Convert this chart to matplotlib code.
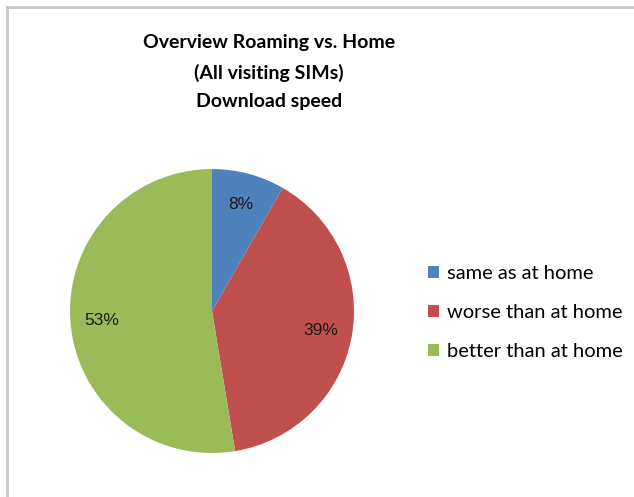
import matplotlib
matplotlib.use("Agg")
import matplotlib.pyplot as plt
from matplotlib.lines import Line2D
from matplotlib.patches import Patch

# data
labels = ["same as at home", "worse than at home", "better than at home"]
shares = [8.3, 39.1, 52.6]
colors = ["#4F81BD", "#C0504D", "#9BBB59"]

fig = plt.figure(figsize=(6.34, 4.97), dpi=100)

# chart frame (only top and left edges visible in the crop)
fig.add_artist(Line2D([0.011, 1.0], [0.986, 0.986], color="#c8c8c8", lw=2))
fig.add_artist(Line2D([0.011, 0.011], [0.0, 0.986], color="#c8c8c8", lw=2))

fig.text(0.424, 0.855, "Overview Roaming vs. Home\n(All visiting SIMs)\nDownload speed",
         ha="center", va="center", fontsize=14, fontweight="bold", family="Lato",
         linespacing=1.8)

ax = fig.add_axes([0.1104, 0.0885, 0.448, 0.5714])
wedges, texts, pcts = ax.pie(shares, colors=colors, startangle=90, counterclock=False,
                             autopct="%1.0f%%", pctdistance=0.78,
                             textprops={"fontsize": 12.5, "family": "Liberation Sans",
                                        "color": "#1a1a1a"})
ax.set_xlim(-1, 1)
ax.set_ylim(-1, 1)
ax.set_aspect("equal")

handles = [Patch(facecolor=c, edgecolor="none") for c in colors]
fig.legend(handles, labels, loc="upper left", bbox_to_anchor=(0.647, 0.503),
           frameon=False, prop={"family": "Lato", "size": 14.5},
           handlelength=0.55, handleheight=0.55, handletextpad=0.4,
           labelspacing=1.1)

fig.savefig("out.png", dpi=100)
